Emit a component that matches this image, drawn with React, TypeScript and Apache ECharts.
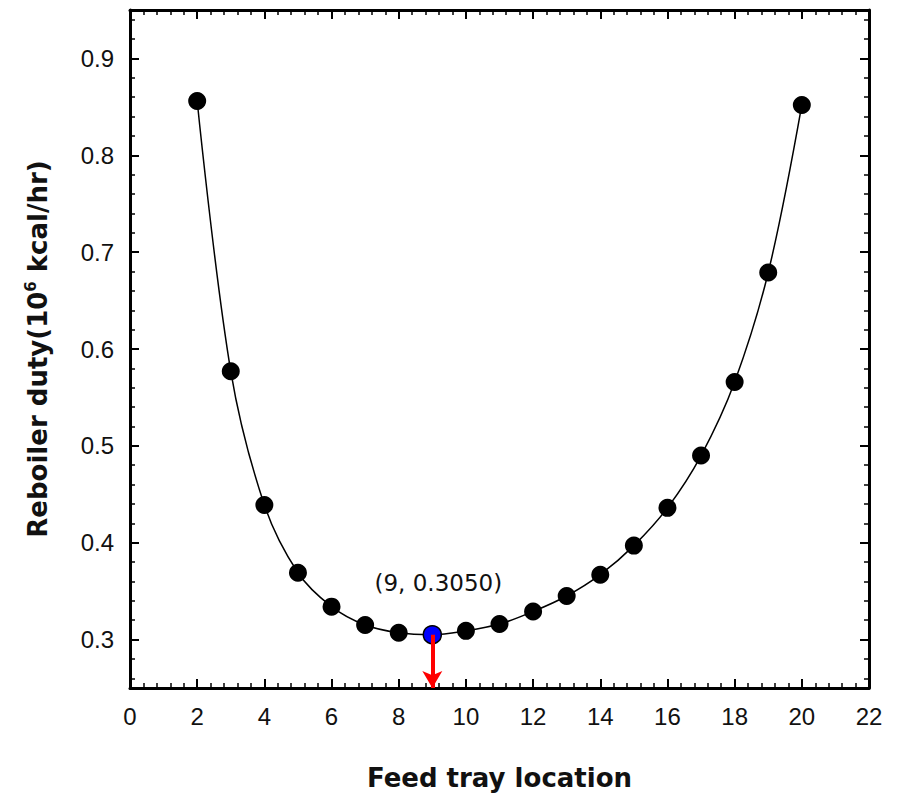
import React, { useEffect, useRef } from "react";
import * as echarts from "echarts";

const trays = [2, 3, 4, 5, 6, 7, 8, 9, 10, 11, 12, 13, 14, 15, 16, 17, 18, 19, 20];
const duty = [0.856, 0.577, 0.439, 0.369, 0.334, 0.315, 0.307, 0.305, 0.309, 0.316, 0.329, 0.345, 0.367, 0.397, 0.436, 0.49, 0.566, 0.679, 0.852];
const optTray = 9;
const optDuty = 0.305;
const optLabel = "(9, 0.3050)";
const yMajorTicks = [0.3, 0.4, 0.5, 0.6, 0.7, 0.8, 0.9];
const yMinorTicks: number[] = [];
for (let i = 13; i <= 47; i++) {
  if (i % 5 !== 0) yMinorTicks.push(+(i * 0.02).toFixed(2));
}

const FONT = "Liberation Sans, Arial, sans-serif";
const TITLE_FONT = "DejaVu Sans, sans-serif";
const NOTE_FONT = "DejaVu Sans, sans-serif";

export default function App() {
  const ref = useRef<HTMLDivElement>(null);
  useEffect(() => {
    document.body.style.margin = "0";
    const chart = echarts.init(ref.current!, null, { renderer: "svg" });
    const yBase = {
      type: "value",
      min: 0.25,
      max: 0.95,
      splitLine: { show: false },
    };
    chart.setOption({
      animation: false,
      backgroundColor: "#fff",
      grid: { left: 130, right: 28, top: 10, bottom: 108 },
      xAxis: [
        {
          type: "value",
          min: 0,
          max: 22,
          interval: 2,
          position: "bottom",
          name: "Feed tray location",
          nameLocation: "middle",
          nameGap: 77,
          nameTextStyle: { fontFamily: TITLE_FONT, fontSize: 26, fontWeight: "bold", color: "#111" },
          axisLine: { show: true, onZero: false, lineStyle: { color: "#000", width: 3 } },
          axisTick: { show: true, inside: true, length: 9, lineStyle: { color: "#000", width: 2 } },
          minorTick: { show: true, splitNumber: 5, length: 5, lineStyle: { color: "#000", width: 1.5 } },
          axisLabel: { margin: 16, fontFamily: FONT, fontSize: 24, color: "#111" },
          splitLine: { show: false },
          minorSplitLine: { show: false },
        },
        {
          type: "value",
          min: 0,
          max: 22,
          interval: 2,
          position: "top",
          axisLine: { show: true, onZero: false, lineStyle: { color: "#000", width: 3 } },
          axisTick: { show: true, inside: true, length: 9, lineStyle: { color: "#000", width: 2 } },
          minorTick: { show: true, splitNumber: 5, length: 5, lineStyle: { color: "#000", width: 1.5 } },
          axisLabel: { show: false },
          splitLine: { show: false },
        },
      ],
      yAxis: [
        {
          ...yBase,
          position: "left",
          name: "{a|Reboiler duty(10}{s|6}{a| kcal/hr)}",
          nameLocation: "middle",
          nameGap: 77,
          nameTextStyle: {
            rich: {
              a: { fontFamily: TITLE_FONT, fontSize: 26, fontWeight: "bold", color: "#111", lineHeight: 30 },
              s: { fontFamily: TITLE_FONT, fontSize: 15, fontWeight: "bold", color: "#111", lineHeight: 30, verticalAlign: "top", padding: [0, 0, 12, 0] },
            },
          },
          axisLine: { show: true, onZero: false, lineStyle: { color: "#000", width: 3 } },
          axisTick: { show: true, inside: true, length: 9, customValues: yMajorTicks, lineStyle: { color: "#000", width: 2 } },
          axisLabel: { margin: 16, customValues: yMajorTicks, fontFamily: FONT, fontSize: 24, color: "#111" },
        },
        {
          ...yBase,
          position: "left",
          axisLine: { show: false, onZero: false },
          axisTick: { show: true, inside: true, length: 5, customValues: yMinorTicks, lineStyle: { color: "#000", width: 1.5 } },
          axisLabel: { show: false },
        },
        {
          ...yBase,
          position: "right",
          axisLine: { show: true, onZero: false, lineStyle: { color: "#000", width: 3 } },
          axisTick: { show: true, inside: true, length: 9, customValues: yMajorTicks, lineStyle: { color: "#000", width: 2 } },
          axisLabel: { show: false },
        },
        {
          ...yBase,
          position: "right",
          axisLine: { show: false, onZero: false },
          axisTick: { show: true, inside: true, length: 5, customValues: yMinorTicks, lineStyle: { color: "#000", width: 1.5 } },
          axisLabel: { show: false },
        },
      ],
      series: [
        {
          type: "line",
          z: 1,
          data: [],
          markLine: {
            silent: true,
            symbol: ["none", "arrow"],
            symbolSize: [15, 17],
            label: { show: false },
            lineStyle: { color: "#ff0000", width: 4, type: "solid" },
            data: [[{ coord: [optTray, optDuty] }, { coord: [optTray, 0.25] }]],
          },
        },
        {
          type: "line",
          z: 3,
          smooth: 0.35,
          data: trays.map((t, i) =>
            t === optTray
              ? {
                  value: [t, duty[i]],
                  itemStyle: { color: "#0000ff", borderColor: "#000", borderWidth: 1.5 },
                  label: {
                    show: true,
                    position: "top",
                    distance: 30,
                    offset: [6, 0],
                    formatter: optLabel,
                    fontFamily: NOTE_FONT,
                    fontSize: 23,
                    fontWeight: 500,
                    color: "#111",
                  },
                }
              : [t, duty[i]]
          ),
          symbol: "circle",
          symbolSize: 18,
          itemStyle: { color: "#000" },
          lineStyle: { color: "#000", width: 1.5 },
        },
      ],
    });
    return () => chart.dispose();
  }, []);
  return <div ref={ref} style={{ position: "fixed", left: 0, top: 0, width: 897, height: 796 }} />;
}
